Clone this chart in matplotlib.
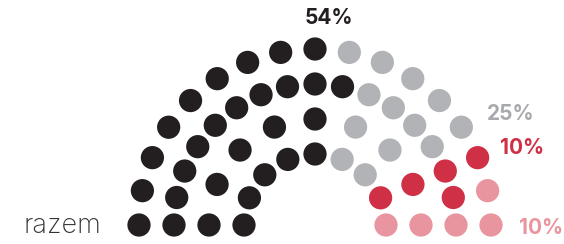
import numpy as np
import matplotlib.pyplot as plt

# seats per row (inner -> outer), split by party, left to right
row_counts = [9, 9, 17, 17]
party_names = ["razem", "grey", "red", "pink"]
black_seats = [5, 5, 10, 9]
grey_seats = [2, 2, 4, 5]
red_seats = [1, 1, 2, 1]
pink_seats = [1, 1, 1, 2]
labels = ["54%", "25%", "10%", "10%"]

colors = ["#231f20", "#b1b3b6", "#cf3045", "#e8959f"]
radii = [71, 106, 141, 176]
cx, cy = 315, 225

fig = plt.figure(figsize=(5.64, 2.44), dpi=100)
ax = fig.add_axes([0, 0, 1, 1])
ax.set_xlim(0, 564)
ax.set_ylim(244, 0)
ax.axis("off")

for i, n in enumerate(row_counts):
    ang = np.linspace(np.pi, 0, n)
    xs = cx + radii[i] * np.cos(ang)
    ys = cy - radii[i] * np.sin(ang)
    seat_cols = []
    for c, cnt in zip(colors, [black_seats[i], grey_seats[i], red_seats[i], pink_seats[i]]):
        seat_cols += [c] * cnt
    ax.scatter(xs, ys, s=280, c=seat_cols, linewidths=0)

font = "Inter"
ax.text(329, 18, labels[0], color="#231f20", fontsize=15, fontweight="bold",
        family=font, ha="center", va="center")
ax.text(487, 114, labels[1], color="#a7a9ac", fontsize=15, fontweight="bold",
        family=font, ha="left", va="center")
ax.text(500, 148, labels[2], color="#cf3045", fontsize=15, fontweight="bold",
        family=font, ha="left", va="center")
ax.text(519, 228, labels[3], color="#e8959f", fontsize=15, fontweight="bold",
        family=font, ha="left", va="center")
ax.text(24, 226, party_names[0], color="#333333", fontsize=19.5, fontweight="light",
        family=font, ha="left", va="center")

fig.savefig("out.png", dpi=100)
